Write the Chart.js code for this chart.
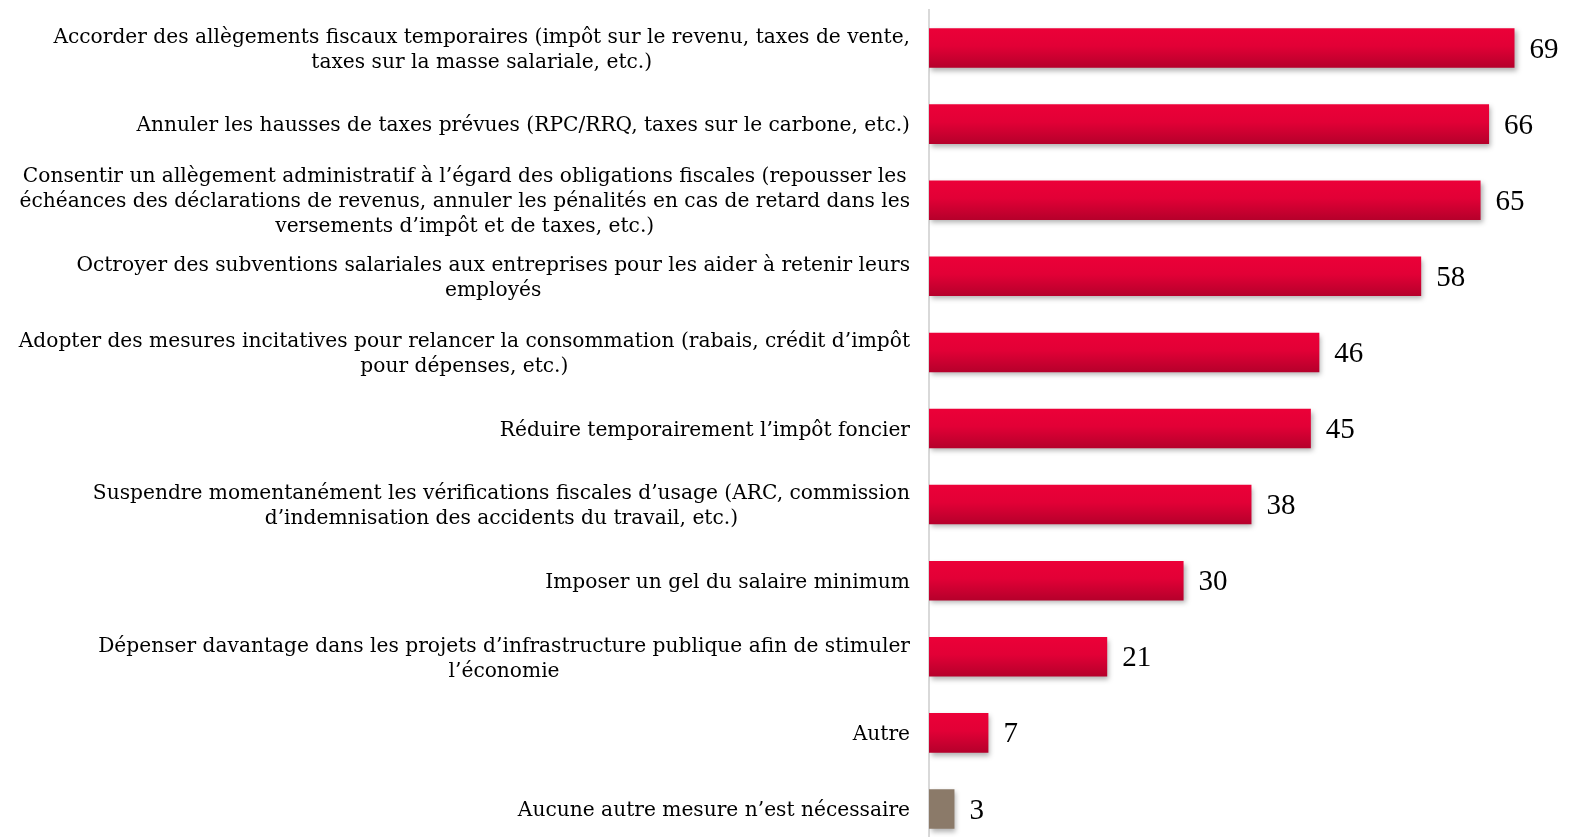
<!DOCTYPE html>
<html>
<head>
<meta charset="utf-8">
<script src="https://cdn.jsdelivr.net/npm/chart.js@4.4.1/dist/chart.umd.min.js"></script>
<style>
  html, body { margin: 0; padding: 0; background: #ffffff; overflow: hidden; }
  canvas { display: block; }
</style>
</head>
<body>
<canvas id="myChart" width="1571" height="850"></canvas>
<script>
// categories (each one split in its lines, as in the picture)
var categories = [
  ['Accorder des allègements fiscaux temporaires (impôt sur le revenu, taxes de vente,', 'taxes sur la masse salariale, etc.)'],
  ['Annuler les hausses de taxes prévues (RPC/RRQ, taxes sur le carbone, etc.)'],
  ['Consentir un allègement administratif à l’égard des obligations fiscales (repousser les', 'échéances des déclarations de revenus, annuler les pénalités en cas de retard dans les', 'versements d’impôt et de taxes, etc.)'],
  ['Octroyer des subventions salariales aux entreprises pour les aider à retenir leurs', 'employés'],
  ['Adopter des mesures incitatives pour relancer la consommation (rabais, crédit d’impôt', 'pour dépenses, etc.)'],
  ['Réduire temporairement l’impôt foncier'],
  ['Suspendre momentanément les vérifications fiscales d’usage (ARC, commission', 'd’indemnisation des accidents du travail, etc.)'],
  ['Imposer un gel du salaire minimum'],
  ['Dépenser davantage dans les projets d’infrastructure publique afin de stimuler', 'l’économie'],
  ['Autre'],
  ['Aucune autre mesure n’est nécessaire']
];
var values = [69, 66, 65, 58, 46, 45, 38, 30, 21, 7, 3];
var greyBars = [10];   // index of the bar drawn in grey

var labelFamily = '"DejaVu Serif", "Liberation Serif", serif';
var valueFont = '29px "Liberation Serif", serif';

function barColor(context) {
  var chart = context.chart;
  var i = context.dataIndex;
  if (greyBars.indexOf(i) >= 0) return '#8b7a69';
  var yScale = chart.scales && chart.scales.y;
  if (!yScale || !chart.chartArea) return '#d80032';
  var center = yScale.getPixelForValue(i);
  var half = yScale.height / categories.length * 0.52 / 2;
  var g = chart.ctx.createLinearGradient(0, center - half, 0, center + half);
  g.addColorStop(0, '#ec0038');
  g.addColorStop(0.45, '#e20036');
  g.addColorStop(1, '#b5002b');
  return g;
}

// soft shadow under the bars
var shadowPlugin = {
  id: 'barShadow',
  beforeDatasetsDraw: function(chart) {
    var ctx = chart.ctx;
    ctx.save();
    ctx.shadowColor = 'rgba(0,0,0,0.30)';
    ctx.shadowBlur = 5;
    ctx.shadowOffsetX = 2;
    ctx.shadowOffsetY = 3;
  },
  afterDatasetsDraw: function(chart) {
    chart.ctx.restore();
  }
};

// category labels (block right aligned, lines centred) and value labels
var textPlugin = {
  id: 'texts',
  afterDraw: function(chart) {
    var ctx = chart.ctx;
    var yScale = chart.scales.y;
    var rightEdge = chart.chartArea.left - 19;
    var lineH = 25;
    ctx.save();
    ctx.fillStyle = '#000000';
    ctx.textBaseline = 'middle';
    // size the font so the longest first line spans like the original (~858px)
    ctx.font = '20px ' + labelFamily;
    var w0 = ctx.measureText(categories[0][0]).width;
    var size = Math.round(20 * 858 / w0 * 10) / 10;
    ctx.font = size + 'px ' + labelFamily;
    ctx.textAlign = 'center';
    categories.forEach(function(lines, i) {
      var maxW = 0;
      lines.forEach(function(l) { maxW = Math.max(maxW, ctx.measureText(l).width); });
      var cx = rightEdge - maxW / 2;
      var cy = yScale.getPixelForValue(i) + 2;
      var y0 = cy - (lines.length - 1) * lineH / 2;
      lines.forEach(function(l, k) { ctx.fillText(l, cx, y0 + k * lineH); });
    });
    ctx.font = valueFont;
    ctx.textAlign = 'left';
    var meta = chart.getDatasetMeta(0);
    meta.data.forEach(function(bar, i) {
      ctx.fillText(String(values[i]), bar.x + 15, bar.y + 2);
    });
    ctx.restore();
  }
};

var ctx = document.getElementById('myChart').getContext('2d');
var myChart = new Chart(ctx, {
  type: 'bar',
  data: {
    labels: categories,
    datasets: [{
      data: values,
      backgroundColor: barColor,
      borderWidth: 0,
      categoryPercentage: 1,
      barPercentage: 0.52
    }]
  },
  options: {
    indexAxis: 'y',
    responsive: false,
    devicePixelRatio: 1,
    animation: false,
    layout: { padding: { left: 929, right: 48, top: 10, bottom: 3 } },
    plugins: {
      legend: { display: false },
      tooltip: { enabled: false }
    },
    scales: {
      x: { display: false, min: 0, max: 70 },
      y: {
        display: true,
        grid: { display: false, drawTicks: false },
        ticks: { display: false },
        border: { display: true, color: '#d9d9d9', width: 2 },
        afterFit: function(scale) { scale.width = 0; }
      }
    }
  },
  plugins: [shadowPlugin, textPlugin]
});
</script>
</body>
</html>
